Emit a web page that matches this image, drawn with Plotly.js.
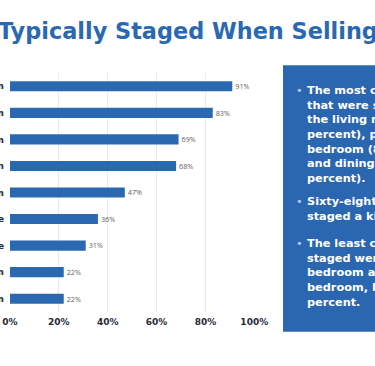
<!DOCTYPE html>
<html>
<head>
<meta charset="utf-8">
<script src="https://cdn.plot.ly/plotly-3.0.1.min.js"></script>
<style>html,body{margin:0;padding:0;background:#fff;overflow:hidden}#chart{width:375px;height:366px}</style>
</head>
<body>
<div id="chart"></div>
<script>
var rooms = ["Living room", "Primary bedroom", "Dining room", "Kitchen", "Family room", "Outdoor space", "Home office", "Guest bedroom", "Children's bedroom"];
var percentStaged = [91, 83, 69, 68, 47, 36, 31, 22, 22];
var xTickValues = [0, 20, 40, 60, 80, 100];
var xTickLabels = ["0%", "20%", "40%", "60%", "80%", "100%"];
var titleText = "Typically Staged When Selling";
var bullet1 = ["The most common rooms", "that were staged were", "the living room (91", "percent), primary", "bedroom (83 percent)", "and dining room (69", "percent)."];
var bullet2 = ["Sixty-eight percent", "staged a kitchen."];
var bullet3 = ["The least commonly", "staged were the guest", "bedroom and children's", "bedroom, both at 22", "percent."];

var W = 375, H = 366;
var M = {l: 10, r: 120, t: 72.7, b: 53.7};
var pw = W - M.l - M.r, ph = H - M.t - M.b;
function px(x) { return (x - M.l) / pw; }
function py(y) { return (H - M.b - y) / ph; }

var blue = "#2a68b1";
var fontFam = "DejaVu Sans, sans-serif";

var trace = {
  type: "bar",
  orientation: "h",
  y: rooms,
  x: percentStaged,
  marker: {color: blue},
  text: percentStaged.map(function (v) { return v + "%"; }),
  textposition: "outside",
  cliponaxis: false,
  textfont: {family: "Open Sans, sans-serif", size: 10, color: "#5e5e5e"},
  hoverinfo: "none"
};

var annotations = [{
  xref: "paper", yref: "paper",
  x: px(-4), y: py(31), xanchor: "left", yanchor: "middle",
  text: "<b>" + titleText + "</b>", showarrow: false,
  font: {family: fontFam, size: 22.4, color: "#2a68b1"}
}];

var lineFont = {family: fontFam, size: 11.3, color: "#ffffff"};
function addBullet(lines, yTop) {
  annotations.push({
    xref: "paper", yref: "paper", x: px(294), y: py(yTop), xanchor: "left", yanchor: "top",
    text: "•", showarrow: false, font: {family: fontFam, size: 11.3, color: "#b9cbe6"}
  });
  annotations.push({
    xref: "paper", yref: "paper", x: px(305), y: py(yTop), xanchor: "left", yanchor: "top", align: "left",
    text: "<b>" + lines.join("<br>") + "</b>", showarrow: false, font: lineFont
  });
}
addBullet(bullet1, 81.5);
addBullet(bullet2, 193);
addBullet(bullet3, 235);

var layout = {
  width: W, height: H,
  margin: M,
  paper_bgcolor: "#ffffff",
  plot_bgcolor: "#ffffff",
  showlegend: false,
  bargap: 0.62,
  xaxis: {
    range: [0, 100.3],
    tickvals: xTickValues,
    ticktext: xTickLabels,
    showgrid: true,
    gridcolor: "#eaeaea",
    gridwidth: 1,
    zeroline: false,
    showline: false,
    ticks: "",
    ticklabelstandoff: 3,
    automargin: false,
    tickfont: {family: fontFam, size: 9, color: "#252a36", weight: "bold"}
  },
  yaxis: {
    autorange: "reversed",
    showgrid: false,
    zeroline: false,
    showline: false,
    ticks: "",
    ticklabelstandoff: 5,
    automargin: false,
    tickfont: {family: fontFam, size: 9, color: "#252a36", weight: "bold"}
  },
  shapes: [{
    type: "rect", xref: "paper", yref: "paper", layer: "below",
    x0: px(283), x1: px(400), y0: py(332), y1: py(65),
    fillcolor: "#2b67b0", line: {width: 0}
  }],
  annotations: annotations
};

Plotly.newPlot("chart", [trace], layout, {staticPlot: true, displayModeBar: false});
</script>
</body>
</html>
